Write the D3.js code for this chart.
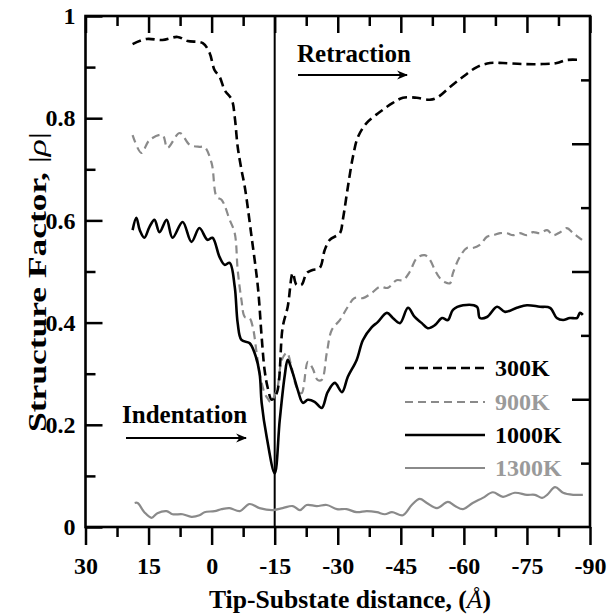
<!DOCTYPE html>
<html>
<head>
<meta charset="utf-8">
<script src="https://cdn.jsdelivr.net/npm/d3@7.9.0/dist/d3.min.js"></script>
<style>
  body { margin: 0; background: #fff; }
  svg { display: block; }
  text { font-family: "Liberation Serif", "Times New Roman", serif; font-weight: bold; }
</style>
</head>
<body>
<svg id="chart" width="608" height="614"></svg>
<script>
// tip-substrate distance (Å) and |rho| for each temperature
const x300 = [18.8, 15.5, 11.7, 8.1, 5.7, 2.1, 0.5, -0.7, -1.9, -3.1, -4.8, -5.5, -6.2, -7.1, -7.9, -9.5, -11.0, -11.9, -12.6, -13.3, -14.3, -15.5, -16.9, -18.1, -19.3, -20.2, -21.4, -22.6, -24.0, -25.7, -26.9, -28.1, -30.5, -31.2, -32.4, -33.6, -34.8, -36.9, -40.0, -43.1, -45.5, -48.8, -51.9, -53.6, -56.7, -59.8, -63.1, -66.2, -69.3, -74.0, -78.8, -82.1, -84.5, -88.1];
const y300 = [0.945, 0.955, 0.953, 0.959, 0.951, 0.947, 0.928, 0.894, 0.881, 0.855, 0.836, 0.802, 0.744, 0.699, 0.665, 0.568, 0.470, 0.372, 0.307, 0.274, 0.249, 0.262, 0.391, 0.431, 0.497, 0.474, 0.474, 0.497, 0.503, 0.507, 0.542, 0.562, 0.575, 0.601, 0.665, 0.724, 0.763, 0.791, 0.812, 0.830, 0.840, 0.840, 0.836, 0.840, 0.861, 0.881, 0.900, 0.908, 0.908, 0.906, 0.906, 0.908, 0.914, 0.914];

const x900 = [18.8, 16.7, 14.8, 11.7, 10.5, 7.6, 5.2, 2.9, 1.7, 0.0, -1.2, -2.4, -4.3, -5.5, -6.2, -7.1, -7.9, -9.0, -9.8, -10.7, -11.4, -12.6, -13.3, -14.0, -15.5, -16.7, -17.9, -19.0, -20.2, -21.4, -22.9, -24.0, -25.2, -26.2, -27.4, -28.6, -30.5, -32.4, -34.0, -36.0, -38.1, -40.0, -41.9, -44.0, -45.5, -47.1, -48.8, -50.7, -51.9, -53.1, -54.3, -55.5, -56.7, -57.4, -59.0, -60.7, -62.1, -63.8, -65.5, -66.9, -68.6, -70.2, -71.7, -73.3, -75.0, -76.4, -78.1, -79.8, -81.2, -82.9, -84.5, -86.0, -88.1];
const y900 = [0.767, 0.732, 0.757, 0.767, 0.742, 0.771, 0.748, 0.744, 0.744, 0.712, 0.646, 0.640, 0.601, 0.575, 0.503, 0.444, 0.411, 0.409, 0.391, 0.341, 0.301, 0.262, 0.252, 0.245, 0.268, 0.327, 0.341, 0.313, 0.274, 0.262, 0.323, 0.311, 0.288, 0.288, 0.341, 0.386, 0.405, 0.431, 0.448, 0.448, 0.458, 0.470, 0.468, 0.483, 0.483, 0.499, 0.526, 0.532, 0.523, 0.503, 0.487, 0.479, 0.477, 0.497, 0.528, 0.546, 0.546, 0.552, 0.568, 0.571, 0.575, 0.575, 0.571, 0.575, 0.571, 0.577, 0.575, 0.581, 0.571, 0.577, 0.585, 0.575, 0.562];

const x1000 = [18.8, 17.9, 17.1, 16.0, 14.8, 13.6, 12.4, 10.7, 9.3, 6.9, 4.8, 2.9, 1.0, -0.2, -1.9, -3.1, -4.3, -5.5, -6.2, -7.1, -9.0, -10.2, -11.4, -11.9, -13.1, -15.0, -16.2, -17.4, -18.1, -19.3, -20.5, -21.7, -22.9, -24.5, -26.2, -27.6, -29.3, -31.0, -32.4, -34.5, -36.0, -38.1, -39.5, -41.7, -43.1, -44.8, -46.7, -48.3, -50.0, -51.4, -53.1, -54.8, -56.2, -57.4, -59.8, -63.1, -63.8, -65.5, -67.9, -69.8, -72.6, -75.0, -78.1, -80.5, -82.1, -83.6, -85.2, -86.9, -87.6, -88.3];
const y1000 = [0.581, 0.605, 0.581, 0.566, 0.587, 0.601, 0.577, 0.601, 0.566, 0.597, 0.558, 0.585, 0.562, 0.566, 0.528, 0.513, 0.517, 0.470, 0.399, 0.366, 0.360, 0.341, 0.301, 0.243, 0.176, 0.105, 0.209, 0.297, 0.327, 0.301, 0.268, 0.243, 0.249, 0.245, 0.233, 0.264, 0.282, 0.264, 0.294, 0.327, 0.366, 0.391, 0.401, 0.419, 0.409, 0.399, 0.429, 0.411, 0.399, 0.389, 0.395, 0.409, 0.405, 0.425, 0.434, 0.431, 0.409, 0.411, 0.431, 0.421, 0.429, 0.434, 0.431, 0.429, 0.409, 0.405, 0.409, 0.409, 0.419, 0.415];

const x1300 = [18.3, 17.6, 16.0, 14.3, 12.9, 10.7, 9.3, 6.9, 4.8, 2.9, 1.7, -0.7, -2.4, -4.3, -6.7, -9.0, -11.4, -14.5, -16.9, -19.3, -21.0, -22.6, -25.0, -27.4, -29.8, -32.1, -34.5, -36.9, -39.3, -41.2, -42.9, -45.5, -47.6, -49.5, -51.2, -53.6, -56.2, -57.9, -59.8, -62.1, -64.5, -66.9, -69.3, -72.1, -75.0, -76.9, -78.6, -79.8, -81.7, -83.6, -86.0, -88.3];
const y1300 = [0.047, 0.047, 0.029, 0.018, 0.027, 0.031, 0.025, 0.025, 0.020, 0.023, 0.029, 0.031, 0.035, 0.037, 0.031, 0.045, 0.037, 0.033, 0.037, 0.041, 0.033, 0.043, 0.041, 0.043, 0.035, 0.035, 0.029, 0.031, 0.029, 0.025, 0.029, 0.023, 0.043, 0.055, 0.047, 0.037, 0.049, 0.041, 0.035, 0.047, 0.057, 0.068, 0.059, 0.067, 0.063, 0.063, 0.057, 0.063, 0.078, 0.067, 0.063, 0.063];

const seriesNames = ['300K', '900K', '1000K', '1300K'];
const seriesX = [x300, x900, x1000, x1300];
const seriesY = [y300, y900, y1000, y1300];

const xMajor = [30, 15, 0, -15, -30, -45, -60, -75, -90];
const xMinor = [22.5, 7.5, -7.5, -22.5, -37.5, -52.5, -67.5, -82.5];
const yMajor = [0, 0.2, 0.4, 0.6, 0.8, 1];
const yMinor = [0.1, 0.3, 0.5, 0.7, 0.9];
const rightMajor = [0.25, 0.5, 0.75];
const rightMinor = [0.125, 0.375, 0.625, 0.875];
const contactX = -15;

const styles = {
  '300K':  { color: '#000', dash: '9,5', width: 2.6, label: '#000' },
  '900K':  { color: '#8a8a8a', dash: '8,5', width: 2.2, label: '#9a9a9a' },
  '1000K': { color: '#000', dash: null, width: 2.6, label: '#000' },
  '1300K': { color: '#8a8a8a', dash: null, width: 2.2, label: '#9a9a9a' }
};

const plotL = 85.5, plotR = 590, plotT = 16, plotB = 527;
const svg = d3.select('#chart');

const x = d3.scaleLinear().domain([30, -90]).range([plotL, plotR]);
const y = d3.scaleLinear().domain([0, 1]).range([plotB, plotT]);

function styleAxis(g) {
  g.select('.domain').remove();
  g.selectAll('line').attr('stroke', '#000').attr('stroke-width', 2.5);
  g.selectAll('text').attr('font-family', '"Liberation Serif", serif')
    .attr('font-weight', 'bold').attr('font-size', 24).attr('fill', '#000');
}

// bottom axis, ticks outward
svg.append('g').attr('transform', `translate(0,${plotB})`)
  .call(d3.axisBottom(x).tickValues(xMajor).tickSize(18).tickPadding(12).tickFormat(d => String(d)))
  .call(styleAxis);
svg.append('g').attr('transform', `translate(0,${plotB})`)
  .call(d3.axisBottom(x).tickValues(xMinor).tickSize(10).tickFormat(''))
  .call(styleAxis);

// top axis, ticks inward
svg.append('g').attr('transform', `translate(0,${plotT})`)
  .call(d3.axisTop(x).tickValues(xMajor).tickSize(-17).tickFormat(''))
  .call(styleAxis);
svg.append('g').attr('transform', `translate(0,${plotT})`)
  .call(d3.axisTop(x).tickValues(xMinor).tickSize(-10).tickFormat(''))
  .call(styleAxis);

// left axis, ticks inward
svg.append('g').attr('transform', `translate(${plotL},0)`)
  .call(d3.axisLeft(y).tickValues(yMajor).tickSize(-17).tickPadding(10).tickFormat(d => d === 0 || d === 1 ? String(d) : d3.format('.1f')(d)))
  .call(styleAxis);
svg.append('g').attr('transform', `translate(${plotL},0)`)
  .call(d3.axisLeft(y).tickValues(yMinor).tickSize(-10).tickFormat(''))
  .call(styleAxis);

// right axis, ticks inward, eighths
svg.append('g').attr('transform', `translate(${plotR},0)`)
  .call(d3.axisRight(y).tickValues(rightMajor).tickSize(-18).tickFormat(''))
  .call(styleAxis);
svg.append('g').attr('transform', `translate(${plotR},0)`)
  .call(d3.axisRight(y).tickValues(rightMinor).tickSize(-9).tickFormat(''))
  .call(styleAxis);

// frame
svg.append('rect')
  .attr('x', plotL).attr('y', plotT)
  .attr('width', plotR - plotL).attr('height', plotB - plotT)
  .attr('fill', 'none').attr('stroke', '#000').attr('stroke-width', 2.6);

// contact line
svg.append('line')
  .attr('x1', x(contactX)).attr('x2', x(contactX))
  .attr('y1', y(1)).attr('y2', y(0))
  .attr('stroke', '#000').attr('stroke-width', 2);

const line = d3.line()
  .x(d => x(d[0]))
  .y(d => y(d[1]))
  .curve(d3.curveCatmullRom.alpha(0.5));

// draw in back-to-front order
[3, 1, 2, 0].forEach(i => {
  const name = seriesNames[i];
  const st = styles[name];
  const pts = seriesX[i].map((v, j) => [v, seriesY[i][j]]);
  svg.append('path')
    .datum(pts)
    .attr('d', line)
    .attr('fill', 'none')
    .attr('stroke', st.color)
    .attr('stroke-width', st.width)
    .attr('stroke-dasharray', st.dash)
    .attr('stroke-linejoin', 'round');
});

// legend
const legendY = [368, 402, 435, 468];
seriesNames.forEach((name, i) => {
  const st = styles[name];
  svg.append('line')
    .attr('x1', 405).attr('x2', 485)
    .attr('y1', legendY[i]).attr('y2', legendY[i])
    .attr('stroke', st.color).attr('stroke-width', st.width)
    .attr('stroke-dasharray', st.dash);
  svg.append('text')
    .attr('x', 495).attr('y', legendY[i] + 8)
    .attr('font-size', 24).attr('fill', st.label)
    .text(name);
});

// annotations
svg.append('defs').append('marker')
  .attr('id', 'arrow').attr('viewBox', '0 0 10 10')
  .attr('refX', 9).attr('refY', 5)
  .attr('markerWidth', 5).attr('markerHeight', 5)
  .attr('markerUnits', 'strokeWidth')
  .attr('orient', 'auto')
  .append('path').attr('d', 'M0,1 L10,5 L0,9 L3,5 Z').attr('fill', '#000');

svg.append('text').attr('x', 297).attr('y', 62).attr('font-size', 25).text('Retraction');
svg.append('line').attr('x1', 298).attr('x2', 407).attr('y1', 75).attr('y2', 75)
  .attr('stroke', '#000').attr('stroke-width', 2.2).attr('marker-end', 'url(#arrow)');

svg.append('text').attr('x', 122).attr('y', 423).attr('font-size', 25).text('Indentation');
svg.append('line').attr('x1', 126).attr('x2', 246).attr('y1', 438).attr('y2', 438)
  .attr('stroke', '#000').attr('stroke-width', 2.2).attr('marker-end', 'url(#arrow)');

// axis titles
const xt = svg.append('text')
  .attr('x', 350).attr('y', 608)
  .attr('text-anchor', 'middle').attr('font-size', 25)
  .attr('textLength', 282).attr('lengthAdjust', 'spacingAndGlyphs');
xt.append('tspan').text('Tip-Substate distance, (');
xt.append('tspan').attr('font-style', 'italic').attr('font-weight', 'normal').text('Å');
xt.append('tspan').text(')');

const yt = svg.append('text')
  .attr('transform', 'translate(46,282) rotate(-90)')
  .attr('text-anchor', 'middle').attr('font-size', 25)
  .attr('textLength', 300).attr('lengthAdjust', 'spacingAndGlyphs');
yt.append('tspan').text('Structure Factor, ');
yt.append('tspan').attr('font-weight', 'normal').text('|');
yt.append('tspan').attr('font-style', 'italic').attr('font-weight', 'normal').text('ρ');
yt.append('tspan').attr('font-weight', 'normal').text('|');
</script>
</body>
</html>
